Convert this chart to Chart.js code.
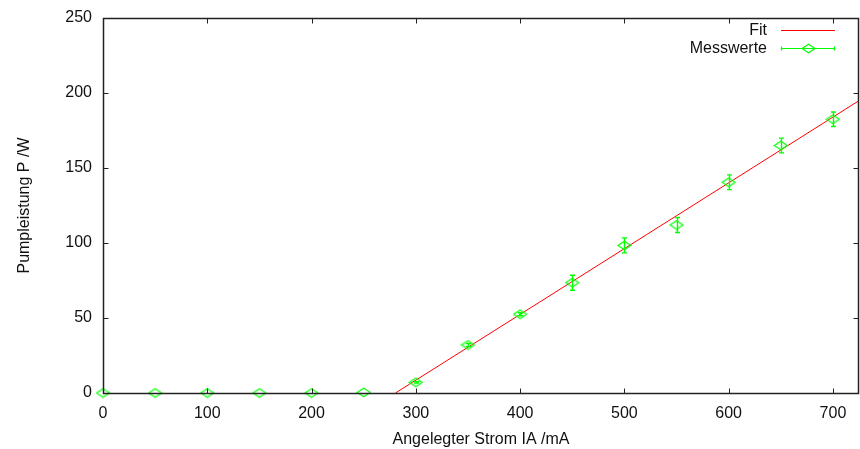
<!DOCTYPE html>
<html>
<head>
<meta charset="utf-8">
<script src="https://cdn.jsdelivr.net/npm/chart.js@4.4.1/dist/chart.umd.min.js"></script>
<style>
  body { margin: 0; background: #fff; }
  canvas { display: block; }
</style>
</head>
<body>
<canvas id="pumpChart" width="860" height="449"></canvas>
<script>
// Messwerte
const strom = [0, 50, 100, 150, 200, 250, 300, 350, 400, 450, 500, 550, 600, 650, 700];
const leistung = [0, 0, 0, 0, 0, 0.4, 7.1, 32, 52.5, 73.5, 98.4, 112, 140.5, 165, 182.5];
const fehler = [0, 0, 0, 0, 0, 0, 0.5, 1, 1, 5, 5, 5, 4.9, 4.9, 4.8];
// Fit (Endpunkte der Geraden)
const fitX = [280.5, 725];
const fitY = [0, 194.9];

const xTicks = [0, 100, 200, 300, 400, 500, 600, 700];
const yTicks = [0, 50, 100, 150, 200, 250];

const GREEN = '#00ff00';
const RED = '#ff0000';
const FONT = 'Liberation Sans, Arial, sans-serif';

// diamond marker (wider than tall, like gnuplot)
const diamond = document.createElement('canvas');
diamond.width = 15; diamond.height = 11;
(function () {
  const c = diamond.getContext('2d');
  c.strokeStyle = GREEN;
  c.lineWidth = 1.2;
  c.beginPath();
  c.moveTo(1, 5.5);
  c.lineTo(7.5, 1.2);
  c.lineTo(14, 5.5);
  c.lineTo(7.5, 9.8);
  c.closePath();
  c.stroke();
})();

const errorBars = {
  id: 'errorBars',
  afterDatasetsDraw(chart) {
    const { ctx, scales: { x, y } } = chart;
    ctx.save();
    ctx.strokeStyle = GREEN;
    ctx.lineWidth = 1.4;
    strom.forEach((v, i) => {
      if (!fehler[i]) return;
      const px = Math.round(x.getPixelForValue(v)) + 0.5;
      const top = y.getPixelForValue(leistung[i] + fehler[i]);
      const bot = y.getPixelForValue(leistung[i] - fehler[i]);
      ctx.beginPath();
      ctx.moveTo(px, top); ctx.lineTo(px, bot);
      ctx.moveTo(px - 2.5, top); ctx.lineTo(px + 2.5, top);
      ctx.moveTo(px - 2.5, bot); ctx.lineTo(px + 2.5, bot);
      ctx.stroke();
    });
    ctx.restore();
  }
};

const frame = {
  id: 'frame',
  afterDraw(chart) {
    const { ctx, chartArea: a, scales: { x, y } } = chart;
    ctx.save();
    ctx.strokeStyle = '#222';
    ctx.lineWidth = 1;
    const l = Math.round(a.left) + 0.5, r = Math.round(a.right) - 0.5;
    const t = Math.round(a.top) + 0.5, b = Math.round(a.bottom) + 0.5;
    ctx.beginPath();
    xTicks.forEach(v => {
      const px = Math.round(x.getPixelForValue(v)) + 0.5;
      ctx.moveTo(px, b); ctx.lineTo(px, b - 5);
      ctx.moveTo(px, t); ctx.lineTo(px, t + 5);
    });
    yTicks.forEach(v => {
      const py = Math.round(y.getPixelForValue(v)) + 0.5;
      ctx.moveTo(l, py); ctx.lineTo(l + 5, py);
      ctx.moveTo(r, py); ctx.lineTo(r - 5, py);
    });
    ctx.stroke();
    ctx.lineWidth = 1.5;
    ctx.strokeRect(l, t, r - l, b - t);

    // legend
    ctx.font = '16px ' + FONT;
    ctx.fillStyle = '#111';
    ctx.textAlign = 'right';
    ctx.textBaseline = 'middle';
    ctx.fillText('Fit', 767, 31);
    ctx.fillText('Messwerte', 767, 49);
    ctx.lineWidth = 1;
    ctx.strokeStyle = RED;
    ctx.beginPath();
    ctx.moveTo(781, 30.5); ctx.lineTo(835, 30.5);
    ctx.stroke();
    ctx.strokeStyle = GREEN;
    ctx.lineWidth = 1.2;
    ctx.beginPath();
    ctx.moveTo(781, 48.5); ctx.lineTo(835, 48.5);
    ctx.moveTo(781.5, 46.5); ctx.lineTo(781.5, 50.5);
    ctx.moveTo(834.5, 46.5); ctx.lineTo(834.5, 50.5);
    ctx.stroke();
    ctx.drawImage(diamond, 801, 43);
    ctx.restore();
  }
};

new Chart(document.getElementById('pumpChart'), {
  type: 'scatter',
  data: {
    datasets: [{
      label: 'Fit',
      data: fitX.map((v, i) => ({ x: v, y: fitY[i] })),
      showLine: true,
      borderColor: RED,
      borderWidth: 1,
      pointRadius: 0,
      order: 2
    }, {
      label: 'Messwerte',
      data: strom.map((v, i) => ({ x: v, y: leistung[i] })),
      pointStyle: diamond,
      pointRadius: 6,
      borderColor: GREEN,
      backgroundColor: GREEN,
      clip: false,
      order: 1
    }]
  },
  options: {
    responsive: false,
    devicePixelRatio: 1,
    animation: false,
    layout: { autoPadding: false, padding: { top: 18, right: 1, left: 0, bottom: 0 } },
    plugins: { legend: { display: false }, tooltip: { enabled: false } },
    scales: {
      x: {
        type: 'linear',
        min: 0, max: 725,
        border: { display: false },
        grid: { display: false, drawTicks: false },
        afterBuildTicks: s => { s.ticks = xTicks.map(v => ({ value: v })); },
        afterFit: s => { s.height = 56; s.paddingLeft = 0; s.paddingRight = 0; },
        ticks: { padding: 11, color: '#111', font: { family: FONT, size: 16 }, maxRotation: 0 },
        title: { display: true, text: 'Angelegter Strom IA /mA', color: '#111',
                 font: { family: FONT, size: 16 }, padding: { top: 0, bottom: 0 } }
      },
      y: {
        min: 0, max: 250,
        border: { display: false },
        grid: { display: false, drawTicks: false },
        afterBuildTicks: s => { s.ticks = yTicks.map(v => ({ value: v })); },
        afterFit: s => { s.width = 103; s.paddingTop = 0; s.paddingBottom = 0; },
        ticks: { padding: 11, color: '#111', font: { family: FONT, size: 16 } },
        title: { display: true, text: 'Pumpleistung P /W', color: '#111',
                 font: { family: FONT, size: 16 }, padding: { top: 15, bottom: 0 } }
      }
    }
  },
  plugins: [errorBars, frame]
});
</script>
</body>
</html>
